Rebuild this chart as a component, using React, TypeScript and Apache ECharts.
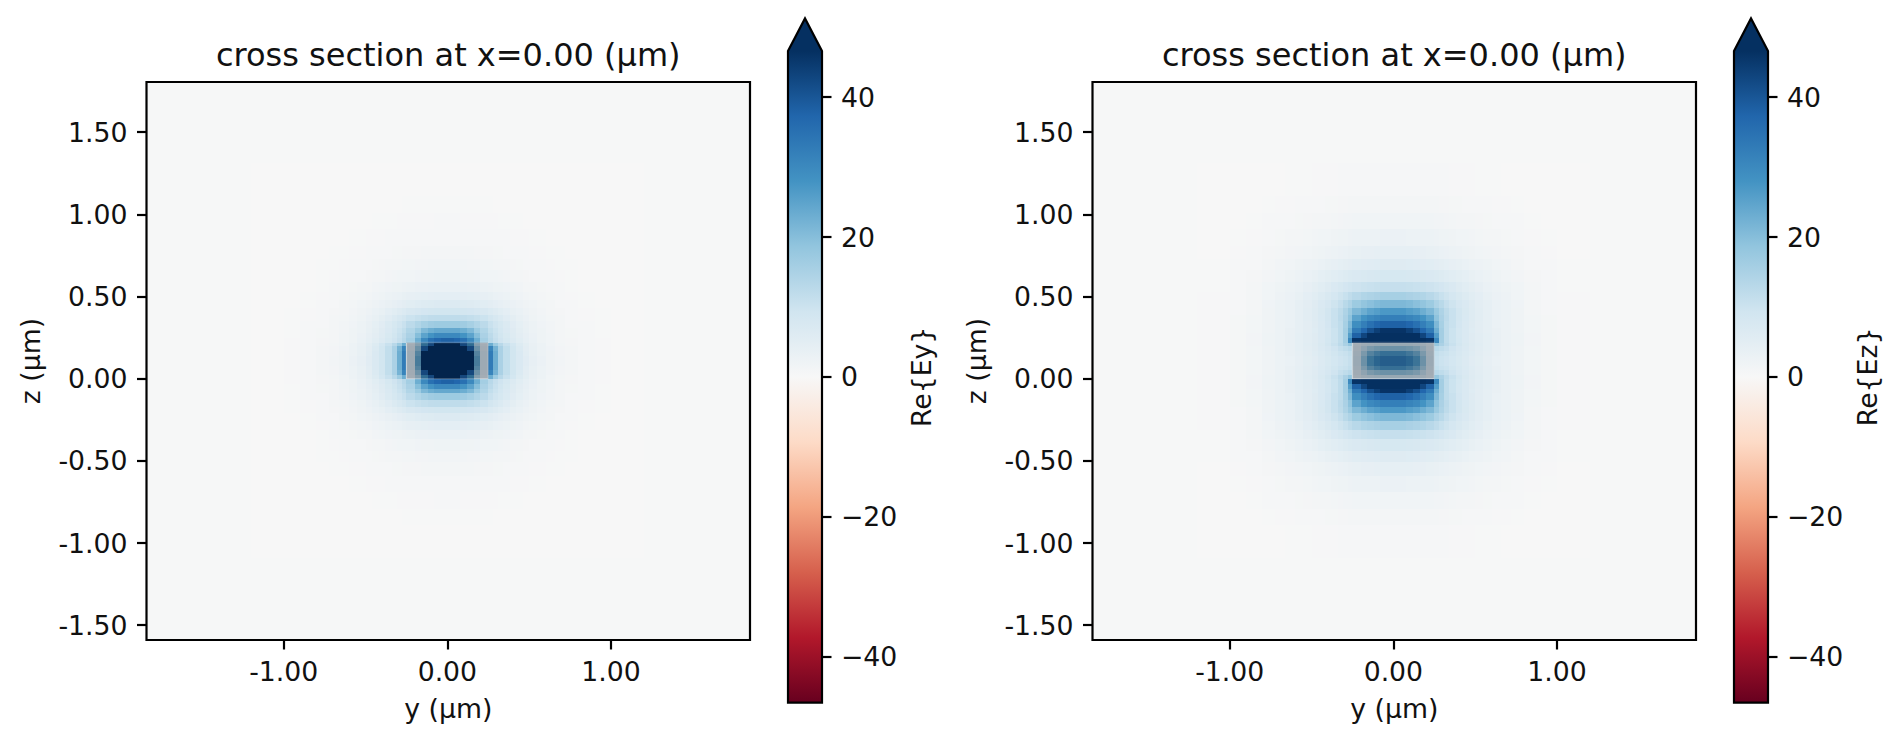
import React, { useEffect, useRef } from "react";
import * as echarts from "echarts";

const titleText = "cross section at x=0.00 (µm)";
const xTicks = [-1, 0, 1];
const zTicks = [-1.5, -1, -0.5, 0, 0.5, 1, 1.5];
const barTicks = [-40, -20, 0, 20, 40];
const colormap = ["#67001f", "#b2182b", "#d6604d", "#f4a582", "#fddbc7", "#f7f7f7", "#d1e5f0", "#92c5de", "#4393c3", "#2166ac", "#053061"];
const colorMax = 46.6;
const waveguide = [-0.25, 0, 0.25, 0.22];
const zCentre = 0.11;

// edges of the mesh cells, measured outward from the waveguide centre (µm)
const yEdges = [0, 0.04, 0.08, 0.12, 0.16, 0.2, 0.25, 0.28, 0.31, 0.34, 0.38, 0.42, 0.46, 0.5, 0.55, 0.6, 0.66, 0.72, 0.8, 0.9, 1.0, 1.2];
const zEdges = [0, 0.03, 0.06, 0.09, 0.11, 0.14, 0.17, 0.2, 0.24, 0.28, 0.32, 0.37, 0.42, 0.48, 0.55, 0.62, 0.7, 0.8, 0.9, 1.0, 1.2];

const eyQuadrant = [
  [60, 58, 54, 50, 24, 7, 33, 23, 15, 11.5, 9, 7, 5.5, 4, 3, 2, 1.4, 1, 0.6, 0.3, 0.1],
  [58, 56, 52, 47, 22, 7, 33, 23, 15, 11.5, 9, 7, 5.2, 3.8, 2.8, 2, 1.3, 0.9, 0.6, 0.3, 0.1],
  [54, 52, 47, 38, 18, 6, 31, 22, 15, 11.5, 9, 6.8, 5, 3.6, 2.7, 1.9, 1.3, 0.9, 0.5, 0.3, 0.1],
  [50, 47, 38, 28, 13, 5, 23, 17, 13, 10.5, 8.5, 6.4, 4.8, 3.5, 2.6, 1.8, 1.2, 0.8, 0.5, 0.3, 0.1],
  [38, 37, 35, 30, 23, 16, 13, 11, 9.5, 8, 6.6, 5.3, 4.1, 3.1, 2.3, 1.6, 1.1, 0.8, 0.5, 0.3, 0.1],
  [30, 30, 28, 25, 20, 15, 12.5, 10.5, 9, 7.5, 6.2, 5, 3.9, 3, 2.2, 1.6, 1.1, 0.7, 0.4, 0.2, 0.1],
  [24, 24, 23, 21, 17, 14, 11.5, 10, 8.5, 7.2, 6, 4.7, 3.7, 2.8, 2.1, 1.5, 1, 0.7, 0.4, 0.2, 0.1],
  [17, 17, 16.5, 15.5, 14, 12.5, 10.5, 9.2, 8, 6.8, 5.5, 4.4, 3.4, 2.6, 1.9, 1.4, 1, 0.6, 0.4, 0.2, 0.1],
  [12, 12, 11.8, 11.4, 10.8, 10, 8.8, 7.8, 6.8, 5.7, 4.7, 3.8, 3, 2.3, 1.7, 1.2, 0.9, 0.6, 0.3, 0.2, 0.1],
  [9, 9, 8.8, 8.6, 8.2, 7.6, 6.9, 6.1, 5.4, 4.6, 3.8, 3.1, 2.5, 2, 1.5, 1.1, 0.8, 0.5, 0.3, 0.2, 0.1],
  [6.5, 6.5, 6.3, 6.1, 5.8, 5.4, 5, 4.5, 4, 3.4, 2.9, 2.4, 2, 1.6, 1.2, 0.9, 0.6, 0.4, 0.2, 0.1, 0],
  [4.6, 4.6, 4.5, 4.4, 4.2, 3.9, 3.6, 3.3, 3, 2.6, 2.2, 1.9, 1.5, 1.2, 0.9, 0.7, 0.5, 0.3, 0.2, 0.1, 0],
  [3.2, 3.2, 3.1, 3, 2.9, 2.7, 2.5, 2.3, 2.1, 1.9, 1.6, 1.4, 1.1, 0.9, 0.7, 0.5, 0.4, 0.2, 0.1, 0.1, 0],
  [2.1, 2.1, 2, 2, 1.9, 1.8, 1.7, 1.6, 1.4, 1.3, 1.1, 0.9, 0.8, 0.6, 0.5, 0.4, 0.3, 0.2, 0.1, 0, 0],
  [1.4, 1.4, 1.4, 1.3, 1.3, 1.2, 1.2, 1.1, 1, 0.9, 0.8, 0.7, 0.6, 0.5, 0.4, 0.3, 0.2, 0.2, 0.1, 0, 0],
  [0.9, 0.9, 0.9, 0.9, 0.8, 0.8, 0.8, 0.7, 0.7, 0.6, 0.5, 0.5, 0.4, 0.3, 0.3, 0.2, 0.2, 0.1, 0.1, 0, 0],
  [0.6, 0.6, 0.6, 0.6, 0.5, 0.5, 0.5, 0.5, 0.4, 0.4, 0.3, 0.3, 0.3, 0.2, 0.2, 0.1, 0.1, 0.1, 0, 0, 0],
  [0.4, 0.4, 0.3, 0.3, 0.3, 0.3, 0.3, 0.3, 0.2, 0.2, 0.2, 0.2, 0.1, 0.1, 0.1, 0.1, 0, 0, 0, 0, 0],
  [0.2, 0.2, 0.2, 0.2, 0.2, 0.2, 0.2, 0.1, 0.1, 0.1, 0.1, 0.1, 0.1, 0, 0, 0, 0, 0, 0, 0, 0],
  [0.1, 0.1, 0.1, 0.1, 0.1, 0.1, 0.1, 0.1, 0, 0, 0, 0, 0, 0, 0, 0, 0, 0, 0, 0, 0],
];

const ezQuadrant = [
  [32, 32, 30, 26, 18, 8, 11, 10, 9.5, 8.5, 7.5, 6.5, 5.5, 4.8, 4, 3.2, 2.6, 2, 1.2, 0.7, 0.3],
  [27, 27, 25, 22, 15, 7, 11.5, 10.5, 10, 9, 7.8, 6.8, 5.8, 5, 4.2, 3.4, 2.7, 2, 1.2, 0.7, 0.3],
  [18, 18, 17, 15, 11, 6, 13, 12, 11, 9.5, 8.2, 7, 6, 5.1, 4.3, 3.4, 2.7, 2, 1.2, 0.7, 0.3],
  [9, 9, 9, 8, 7, 5, 18, 15, 12.5, 10.5, 8.8, 7.4, 6.2, 5.3, 4.4, 3.5, 2.8, 2.1, 1.3, 0.7, 0.3],
  [62, 60, 56, 52, 48, 46, 30, 16, 12, 10, 8.5, 7, 6, 5.2, 4.4, 3.5, 2.8, 2.1, 1.3, 0.7, 0.3],
  [54, 53, 50, 47, 43, 38, 26, 16, 12, 10, 8.4, 7, 6, 5.1, 4.3, 3.4, 2.7, 2.1, 1.3, 0.7, 0.3],
  [46, 46, 44, 41, 37, 33, 23, 16, 12, 10, 8.3, 7, 5.9, 5, 4.2, 3.4, 2.7, 2, 1.2, 0.7, 0.3],
  [38, 38, 37, 35, 32, 29, 21, 15.5, 12, 10.5, 8.6, 7.2, 6, 5, 4.2, 3.3, 2.7, 2, 1.2, 0.7, 0.3],
  [32, 32, 31, 30, 28, 25, 19, 15, 12.5, 10.5, 8.8, 7.3, 6.2, 5.2, 4.2, 3.3, 2.7, 2, 1.2, 0.7, 0.3],
  [27, 27, 26, 25, 23, 21, 17.5, 14.5, 12.2, 10.5, 8.8, 7.4, 6.2, 5.2, 4.2, 3.3, 2.7, 2, 1.1, 0.6, 0.3],
  [21, 21, 20.5, 19.5, 18.5, 17, 14.5, 12.8, 11, 9.6, 8.2, 7, 6, 5, 4.1, 3.3, 2.6, 1.9, 1.1, 0.6, 0.3],
  [15.5, 15.5, 15, 14.5, 14, 13, 11.8, 10.6, 9.6, 8.4, 7.4, 6.4, 5.4, 4.6, 3.8, 3, 2.4, 1.8, 1, 0.6, 0.3],
  [11, 11, 10.8, 10.5, 10.2, 9.8, 9.2, 8.6, 7.8, 7, 6.2, 5.4, 4.7, 4, 3.3, 2.7, 2.1, 1.6, 0.9, 0.5, 0.2],
  [8, 8, 7.8, 7.6, 7.4, 7.1, 6.8, 6.4, 5.9, 5.4, 4.9, 4.3, 3.8, 3.2, 2.7, 2.2, 1.8, 1.3, 0.8, 0.4, 0.2],
  [6, 6, 5.9, 5.7, 5.5, 5.3, 5, 4.7, 4.4, 4, 3.6, 3.2, 2.8, 2.4, 2.1, 1.7, 1.4, 1, 0.6, 0.4, 0.2],
  [4.2, 4.2, 4.1, 4, 3.9, 3.7, 3.5, 3.3, 3, 2.8, 2.5, 2.3, 2, 1.8, 1.5, 1.3, 1, 0.8, 0.5, 0.3, 0.1],
  [2.9, 2.9, 2.8, 2.8, 2.7, 2.6, 2.4, 2.3, 2.1, 2, 1.8, 1.6, 1.4, 1.2, 1.1, 0.9, 0.7, 0.5, 0.3, 0.2, 0.1],
  [1.8, 1.8, 1.8, 1.7, 1.7, 1.6, 1.5, 1.4, 1.3, 1.2, 1.1, 1, 0.9, 0.8, 0.7, 0.6, 0.5, 0.4, 0.2, 0.1, 0],
  [1, 1, 1, 1, 0.9, 0.9, 0.9, 0.8, 0.8, 0.7, 0.7, 0.6, 0.5, 0.5, 0.4, 0.3, 0.3, 0.2, 0.1, 0.1, 0],
  [0.5, 0.5, 0.5, 0.5, 0.5, 0.4, 0.4, 0.4, 0.4, 0.3, 0.3, 0.3, 0.3, 0.2, 0.2, 0.2, 0.1, 0.1, 0.1, 0, 0],
];

const FONT = "DejaVu Sans";
const INK = "#000000";
const TEXT = "#111111";
const TICK_SIZE = 26.7;
const TITLE_SIZE = 32;

const colorOf = (v: number) => {
  const t = Math.max(0, Math.min(1, (v + colorMax) / (2 * colorMax)));
  return echarts.color.lerp(t, colormap) as string;
};

// the field is mirror symmetric about y=0 and about the waveguide mid-plane
const cellsFrom = (quadrant: number[][]) => {
  const cells: number[][] = [];
  quadrant.forEach((row, r) =>
    row.forEach((v, c) => {
      const [y0, y1, z0, z1] = [yEdges[c], yEdges[c + 1], zEdges[r], zEdges[r + 1]];
      cells.push([y0, y1, zCentre + z0, zCentre + z1, v]);
      cells.push([-y1, -y0, zCentre + z0, zCentre + z1, v]);
      cells.push([y0, y1, zCentre - z1, zCentre - z0, v]);
      cells.push([-y1, -y0, zCentre - z1, zCentre - z0, v]);
    })
  );
  return cells;
};

const renderCell = (_: any, api: any) => {
  const a = api.coord([api.value(0), api.value(3)]);
  const b = api.coord([api.value(1), api.value(2)]);
  const x = Math.round(a[0]);
  const y = Math.round(a[1]);
  return {
    type: "rect",
    shape: { x, y, width: Math.round(b[0]) - x, height: Math.round(b[1]) - y },
    style: { fill: colorOf(api.value(4)) },
    silent: true,
  };
};

const renderWaveguide = (_: any, api: any) => {
  const a = api.coord([api.value(0), api.value(3)]);
  const b = api.coord([api.value(2), api.value(1)]);
  return {
    type: "rect",
    shape: { x: a[0], y: a[1], width: b[0] - a[0], height: b[1] - a[1] },
    style: { fill: "rgba(0,8,20,0.28)", stroke: "rgba(255,255,255,0.22)", lineWidth: 1.5 },
    silent: true,
  };
};

const renderBar = (_: any, api: any) => {
  const top = api.coord([0, colorMax]);
  const bottom = api.coord([1, -colorMax]);
  const [x0, y0, x1, y1] = [top[0], top[1], bottom[0], bottom[1]];
  const tip = 0.05 * (y1 - y0);
  const last = colormap.length - 1;
  const stops = colormap.map((_c, i) => ({ offset: i / last, color: colormap[last - i] }));
  return {
    type: "group",
    silent: true,
    children: [
      {
        type: "rect",
        shape: { x: x0, y: y0, width: x1 - x0, height: y1 - y0 },
        style: { fill: new echarts.graphic.LinearGradient(0, 0, 0, 1, stops) },
      },
      {
        type: "polygon",
        shape: { points: [[x0, y0], [(x0 + x1) / 2, y0 - tip], [x1, y0]] },
        style: { fill: colormap[last] },
      },
      {
        type: "polygon",
        shape: { points: [[x0, y0], [(x0 + x1) / 2, y0 - tip], [x1, y0], [x1, y1], [x0, y1]] },
        style: { fill: "none", stroke: INK, lineWidth: 2.2 },
      },
    ],
  };
};

const panels = [
  { left: 146.5, width: 603.5, barLeft: 788, label: "Re{Ey}", quadrant: eyQuadrant },
  { left: 1092.5, width: 603.5, barLeft: 1734, label: "Re{Ez}", quadrant: ezQuadrant },
];

const tickStyle = { show: true, length: 9.5, lineStyle: { color: INK, width: 2.2 } };
const labelStyle = { color: TEXT, fontFamily: FONT, fontSize: TICK_SIZE, hideOverlap: false };
const nameStyle = { color: TEXT, fontFamily: FONT, fontSize: TICK_SIZE };
const hiddenLine = { show: false, onZero: false };

const buildOption = () => {
  const grid: any[] = [];
  const xAxis: any[] = [];
  const yAxis: any[] = [];
  const series: any[] = [];
  const title: any[] = [];
  panels.forEach((p, i) => {
    const g = i * 2;
    grid.push({
      left: p.left, top: 82, width: p.width, height: 558, show: true,
      backgroundColor: "#f6f7f7", borderColor: INK, borderWidth: 2.2,
    });
    grid.push({ left: p.barLeft, top: 51, width: 34, height: 651.7 });
    title.push({
      text: titleText, left: p.left + p.width / 2, top: 38.5, textAlign: "center", padding: 0,
      textStyle: { color: TEXT, fontFamily: FONT, fontSize: TITLE_SIZE, fontWeight: "normal" },
    });
    xAxis.push({
      gridIndex: g, type: "value", min: -1.838, max: 1.849, name: "y (µm)", nameLocation: "middle", nameGap: 55,
      nameTextStyle: nameStyle, splitLine: { show: false }, axisLine: hiddenLine,
      axisTick: { ...tickStyle, customValues: xTicks },
      axisLabel: { ...labelStyle, margin: 18, customValues: xTicks, formatter: (v: number) => v.toFixed(2) },
    });
    yAxis.push({
      gridIndex: g, type: "value", min: -1.59, max: 1.805, name: "z (µm)", nameLocation: "middle", nameGap: 103,
      nameRotate: 90, nameTextStyle: nameStyle, splitLine: { show: false }, axisLine: hiddenLine,
      axisTick: { ...tickStyle, customValues: zTicks },
      axisLabel: { ...labelStyle, margin: 19, customValues: zTicks, formatter: (v: number) => v.toFixed(2) },
    });
    xAxis.push({ gridIndex: g + 1, type: "value", min: 0, max: 1, show: false });
    yAxis.push({
      gridIndex: g + 1, type: "value", position: "right", min: -colorMax, max: colorMax, name: p.label,
      nameLocation: "middle", nameGap: 86, nameRotate: 90, nameTextStyle: nameStyle,
      splitLine: { show: false }, axisLine: hiddenLine,
      axisTick: { ...tickStyle, customValues: barTicks },
      axisLabel: {
        ...labelStyle, margin: 19, customValues: barTicks,
        formatter: (v: number) => String(v).replace("-", "\u2212"),
      },
    });
    series.push({
      type: "custom", xAxisIndex: g, yAxisIndex: g, coordinateSystem: "cartesian2d", silent: true,
      data: cellsFrom(p.quadrant), renderItem: renderCell, z: 2,
    });
    series.push({
      type: "custom", xAxisIndex: g, yAxisIndex: g, coordinateSystem: "cartesian2d", silent: true,
      data: [waveguide], renderItem: renderWaveguide, z: 3,
    });
    series.push({
      type: "custom", xAxisIndex: g + 1, yAxisIndex: g + 1, coordinateSystem: "cartesian2d", silent: true,
      data: [[0, 0]], renderItem: renderBar, z: 2, clip: false,
    });
  });
  return { animation: false, backgroundColor: "#ffffff", title, grid, xAxis, yAxis, series };
};

export default function App() {
  const ref = useRef<HTMLDivElement>(null);
  useEffect(() => {
    const chart = echarts.init(ref.current!, undefined, { renderer: "svg" });
    chart.setOption(buildOption());
    return () => chart.dispose();
  }, []);
  return <div ref={ref} style={{ position: "fixed", left: 0, top: 0, width: 1901, height: 743 }} />;
}
